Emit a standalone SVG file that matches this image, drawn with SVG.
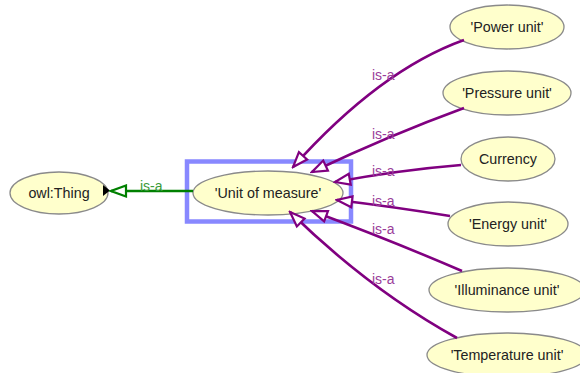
<svg xmlns="http://www.w3.org/2000/svg" width="580" height="373" viewBox="0 0 580 373">
<defs>
<style>
.node ellipse{fill:#ffffcc;stroke:#8a8a8a;stroke-width:1.3}
.node text{font-family:"Liberation Sans",Arial,sans-serif;font-size:14.3px;fill:#222;text-anchor:middle}
.edge{fill:none;stroke:#800080;stroke-width:2.6}
.green{fill:none;stroke:#008000;stroke-width:2.6}
.lbl{font-family:"Liberation Sans",Arial,sans-serif;font-size:14px;fill:#9a3d9a}
.glbl{font-family:"Liberation Sans",Arial,sans-serif;font-size:14px;fill:#3a9a3a}
</style>
<marker id="pa" markerUnits="userSpaceOnUse" markerWidth="19" markerHeight="15" refX="17" refY="7.5" orient="auto">
<path d="M2,2 L17,7.5 L2,13 Z" fill="#fff" stroke="#800080" stroke-width="2.2"/>
</marker>
<marker id="ga" markerUnits="userSpaceOnUse" markerWidth="19" markerHeight="15" refX="17" refY="7.5" orient="auto">
<path d="M2,2 L17,7.5 L2,13 Z" fill="#fff" stroke="#008000" stroke-width="2.2"/>
</marker>
</defs>
<rect x="0" y="0" width="580" height="373" fill="#fff"/>
<rect id="selection" x="187" y="161.5" width="164" height="60" fill="none" stroke="#8888ff" stroke-width="4.5"/>
<g id="n-thing" class="node"><ellipse cx="59" cy="193" rx="49" ry="21"/><text x="59" y="198">owl:Thing</text></g>
<g id="n-unit" class="node"><ellipse cx="268" cy="193" rx="75" ry="22"/><text x="268" y="198">'Unit of measure'</text></g>
<g id="n-power" class="node"><ellipse cx="507" cy="27" rx="57" ry="22"/><text x="507" y="32">'Power unit'</text></g>
<g id="n-pressure" class="node"><ellipse cx="507" cy="93" rx="64" ry="22"/><text x="507" y="98">'Pressure unit'</text></g>
<g id="n-currency" class="node"><ellipse cx="508" cy="159" rx="47" ry="22"/><text x="508" y="164">Currency</text></g>
<g id="n-energy" class="node"><ellipse cx="508" cy="224" rx="60" ry="22"/><text x="508" y="229">'Energy unit'</text></g>
<g id="n-illum" class="node"><ellipse cx="507" cy="290" rx="78" ry="22"/><text x="507" y="295">'Illuminance unit'</text></g>
<g id="n-temp" class="node"><ellipse cx="507" cy="355" rx="80" ry="22"/><text x="507" y="360">'Temperature unit'</text></g>
<g id="connectors">
<polygon points="103,185 110,190.5 103,196" fill="#000"/>
<path class="green" d="M193,191 L111,191" marker-end="url(#ga)"/>
<text class="glbl" x="140" y="191">is-a</text>
<path class="edge" d="M464,40 Q380,70 293,167" marker-end="url(#pa)"/>
<path class="edge" d="M464,108 Q390,135 312,172" marker-end="url(#pa)"/>
<path class="edge" d="M461,165 Q400,170 335,182" marker-end="url(#pa)"/>
<path class="edge" d="M450,216 Q395,207 337,200" marker-end="url(#pa)"/>
<path class="edge" d="M462,271 Q390,240 312,211" marker-end="url(#pa)"/>
<path class="edge" d="M457,338 Q370,290 290,212" marker-end="url(#pa)"/>
<text class="lbl" x="372" y="80">is-a</text>
<text class="lbl" x="372" y="139">is-a</text>
<text class="lbl" x="372" y="176">is-a</text>
<text class="lbl" x="372" y="206">is-a</text>
<text class="lbl" x="372" y="234">is-a</text>
<text class="lbl" x="372" y="284">is-a</text>
</g>
</svg>
